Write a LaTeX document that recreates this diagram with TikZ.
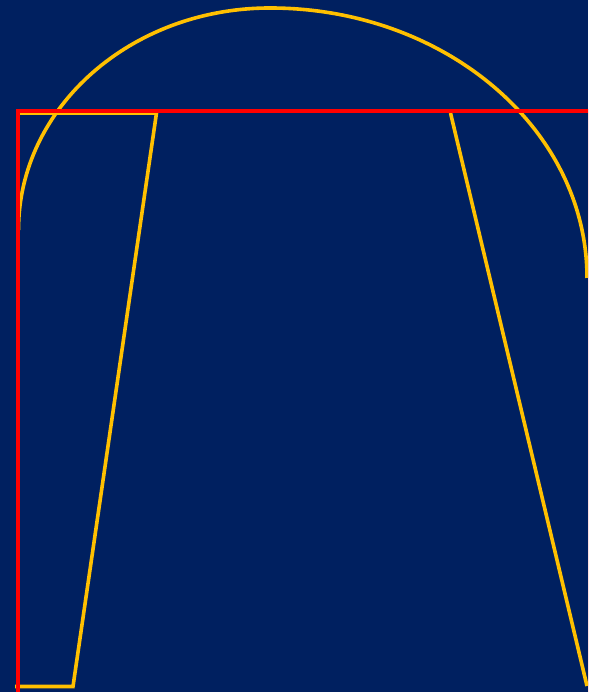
\documentclass[tikz,border=0pt]{standalone}
\usepackage{xcolor}
\usepackage{tikz}
\definecolor{knavy}{HTML}{002060}
\definecolor{kyellow}{HTML}{FFC000}
\definecolor{kred}{HTML}{FF0000}
\begin{document}
\begin{tikzpicture}[x=1pt, y=1pt]

  %% Navy background
  \fill[knavy] (0,0) rectangle (588,692);
  \useasboundingbox (0,0) rectangle (588,692);
  \clip (0,0) rectangle (588,692);

  %% Left yellow panel
  \draw[kyellow, line width=3.6pt, line join=miter]
    (17,579) -- (156.5,579) -- (73,5.5) -- (15,5.5);

  %% Right yellow edge
  \coordinate (rtop) at (450.5,579);
  \coordinate (rbot) at (587,6);
  \draw[kyellow, line width=3.6pt] (rtop) -- (rbot);

  %% Yellow dome
  \draw[kyellow, line width=3.6pt]
    (18.5,462) arc[start angle=180, end angle=90, x radius=251.5, y radius=222]
    arc[start angle=90, end angle=0, x radius=317, y radius=270];

  %% Red frame
  \draw[kred, line width=4.4pt] (17.8,581) rectangle (589.8,-20);

\end{tikzpicture}
\end{document}
